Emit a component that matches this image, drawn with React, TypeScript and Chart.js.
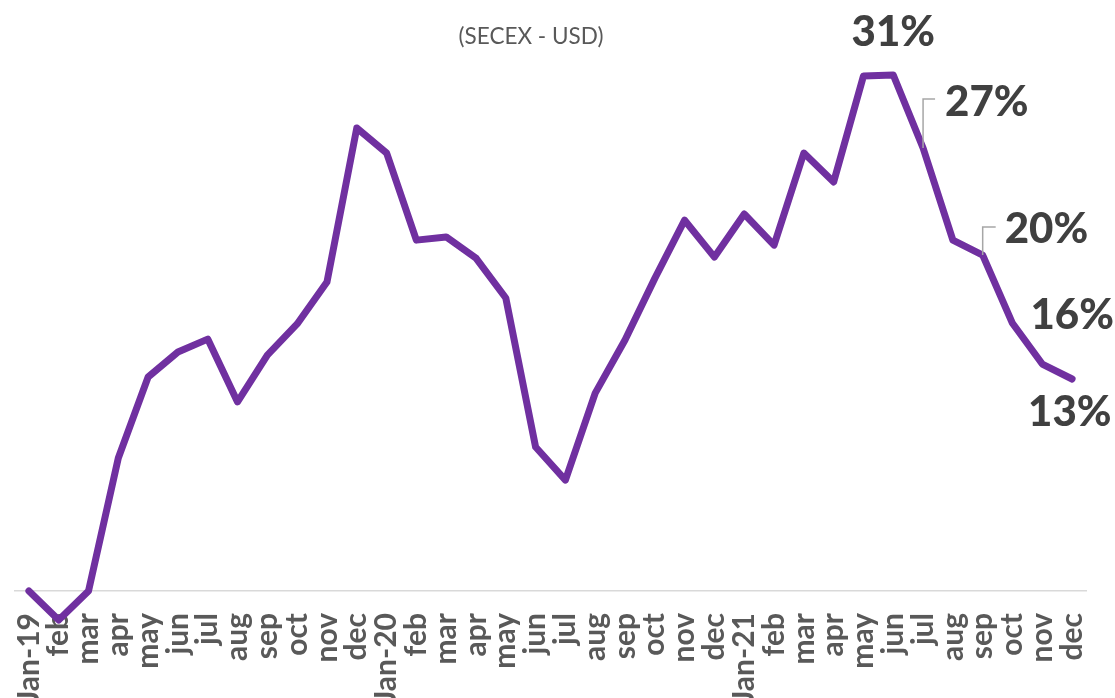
import React, { useEffect, useRef } from "react";
import { Chart, registerables } from "chart.js";

Chart.register(...registerables);

const categories: string[] = [
  "Jan-19", "feb", "mar", "apr", "may", "jun", "jul", "aug", "sep", "oct", "nov", "dec",
  "Jan-20", "feb", "mar", "apr", "may", "jun", "jul", "aug", "sep", "oct", "nov", "dec",
  "Jan-21", "feb", "mar", "apr", "may", "jun", "jul", "aug", "sep", "oct", "nov", "dec",
];

const growth: number[] = [
  0.0, -1.74, 0.0, 8.0, 12.87, 14.37, 15.15, 11.37, 14.19, 16.06, 18.58, 27.84,
  26.34, 21.1, 21.29, 20.02, 17.62, 8.66, 6.67, 11.9, 15.09, 18.8, 22.3, 20.08,
  22.67, 20.8, 26.34, 24.6, 30.97, 31.03, 26.64, 21.1, 20.2, 16.1, 13.65, 12.75,
];

const labeledIndices: number[] = [29, 30, 32, 33, 35];

const subtitle = "(SECEX - USD)";

const FONT = "Lato, 'Noto Sans', sans-serif";

export default function App() {
  const canvasRef = useRef<HTMLCanvasElement | null>(null);

  useEffect(() => {
    const canvas = canvasRef.current;
    if (!canvas) return;

    const labelPlacement: Record<number, { dx: number; dy: number; align: CanvasTextAlign; leader?: { up: number; right: number } }> = {
      29: { dx: 0, dy: -43, align: "center" },
      30: { dx: 22, dy: -46, align: "left", leader: { up: 49, right: 12 } },
      32: { dx: 22, dy: -26, align: "left", leader: { up: 28, right: 13 } },
      33: { dx: 18, dy: -8, align: "left" },
      35: { dx: -44, dy: 33, align: "left" },
    };

    const labelsPlugin = {
      id: "customLabels",
      afterDatasetsDraw(chart: any) {
        const ctx = chart.ctx;
        const meta = chart.getDatasetMeta(0);
        ctx.save();
        labeledIndices.forEach((i) => {
          const pt = meta.data[i];
          const spec = labelPlacement[i];
          if (!pt || !spec) return;
          if (spec.leader) {
            ctx.strokeStyle = "#A6A6A6";
            ctx.lineWidth = 1.5;
            ctx.beginPath();
            ctx.moveTo(pt.x, pt.y);
            ctx.lineTo(pt.x, pt.y - spec.leader.up);
            ctx.lineTo(pt.x + spec.leader.right, pt.y - spec.leader.up);
            ctx.stroke();
          }
          ctx.fillStyle = "#404040";
          ctx.font = `900 42px ${FONT}`;
          ctx.textAlign = spec.align;
          ctx.textBaseline = "middle";
          ctx.fillText(Math.round(growth[i]) + "%", pt.x + spec.dx, pt.y + spec.dy);
        });
        ctx.fillStyle = "#595959";
        ctx.font = `22.5px ${FONT}`;
        ctx.textAlign = "center";
        ctx.textBaseline = "middle";
        ctx.fillText(subtitle, 531, 37);
        ctx.restore();
      },
    };

    const chart = new Chart(canvas, {
      type: "line",
      data: {
        labels: categories,
        datasets: [
          {
            data: growth,
            borderColor: "#7030A0",
            borderWidth: 7,
            borderJoinStyle: "round",
            borderCapStyle: "round",
            pointRadius: 0,
            tension: 0,
            fill: false,
            clip: false,
          } as any,
        ],
      },
      options: {
        animation: false,
        responsive: false,
        maintainAspectRatio: false,
        layout: { padding: { left: 14, right: 28, top: 25.6, bottom: 0 } },
        plugins: {
          legend: { display: false },
          tooltip: { enabled: false },
          title: { display: false },
        },
        scales: {
          x: {
            offset: true,
            grid: { display: false, drawTicks: false },
            border: { display: false },
            ticks: {
              autoSkip: false,
              minRotation: 90,
              maxRotation: 90,
              padding: 4,
              color: "#595959",
              font: { family: FONT, size: 30, weight: "bold" },
            },
            afterFit: (scale: any) => {
              scale.height = 89;
            },
          },
          y: {
            min: -1.08,
            max: 34,
            ticks: { display: false },
            border: { display: false },
            grid: {
              drawTicks: false,
              lineWidth: 1.5,
              color: (c: any) => (c.tick && c.tick.value === 0 ? "#D9D9D9" : "rgba(0,0,0,0)"),
            },
            afterBuildTicks: (scale: any) => {
              scale.ticks = [{ value: 0 }];
            },
            afterFit: (scale: any) => {
              scale.width = 0;
            },
          },
        },
      },
      plugins: [labelsPlugin],
    });

    return () => chart.destroy();
  }, []);

  return (
    <div style={{ position: "fixed", left: 0, top: 0, width: 1115, height: 698, background: "#fff" }}>
      <canvas ref={canvasRef} width={1115} height={698} style={{ width: 1115, height: 698, display: "block" }} />
    </div>
  );
}
